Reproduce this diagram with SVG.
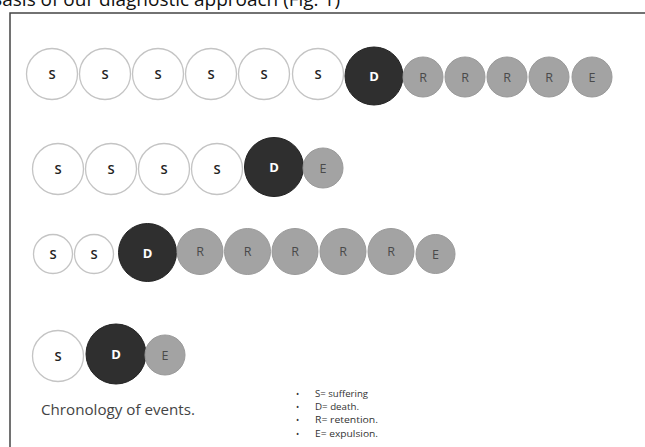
<svg xmlns="http://www.w3.org/2000/svg" width="645" height="447" viewBox="0 0 645 447">
<style>
.s{fill:#fff;stroke:#c4c4c4;stroke-width:1.3}
.d{fill:#2f2f2f;stroke:#222;stroke-width:1}
.r{fill:#a3a3a3;stroke:#9a9a9a;stroke-width:1}
text{font-family:"Open Sans","Liberation Sans",sans-serif;text-anchor:middle;dominant-baseline:central}
.ts{font-size:13px;fill:#222;font-weight:600}
.td{font-size:13px;fill:#fff;font-weight:700}
.tr{font-size:12.5px;fill:#4a4a4a}
.cap{font-size:14px;fill:#444;text-anchor:start;dominant-baseline:alphabetic}
.leg{font-size:8.5px;fill:#333;text-anchor:start;dominant-baseline:alphabetic}
</style>
<rect width="645" height="447" fill="#fff"/>
<text x="-10" y="6" textLength="350" lengthAdjust="spacingAndGlyphs" style="font-size:18px;fill:#111;text-anchor:start;dominant-baseline:alphabetic">Basis of our diagnostic approach (Fig. 1)</text>
<g id="frame"><path d="M10 447V13H645" fill="none" stroke="#444" stroke-width="1.5"/></g>

<g id="row1">
<g id="r1s1"><circle class="s" cx="52" cy="74" r="25.5"/><text class="ts" x="52" y="74">S</text></g>
<g id="r1s2"><circle class="s" cx="105" cy="74" r="25.5"/><text class="ts" x="105" y="74">S</text></g>
<g id="r1s3"><circle class="s" cx="158" cy="74" r="25.5"/><text class="ts" x="158" y="74">S</text></g>
<g id="r1s4"><circle class="s" cx="211" cy="74" r="25.5"/><text class="ts" x="211" y="74">S</text></g>
<g id="r1s5"><circle class="s" cx="264" cy="74" r="25.5"/><text class="ts" x="264" y="74">S</text></g>
<g id="r1s6"><circle class="s" cx="318" cy="74" r="25.5"/><text class="ts" x="318" y="74">S</text></g>
<g id="r1d"><circle class="d" cx="374" cy="76" r="29"/><text class="td" x="374" y="76">D</text></g>
<g id="r1r1"><circle class="r" cx="423" cy="77" r="20"/><text class="tr" x="423" y="77">R</text></g>
<g id="r1r2"><circle class="r" cx="465" cy="77" r="20"/><text class="tr" x="465" y="77">R</text></g>
<g id="r1r3"><circle class="r" cx="507" cy="77" r="20"/><text class="tr" x="507" y="77">R</text></g>
<g id="r1r4"><circle class="r" cx="549" cy="77" r="20"/><text class="tr" x="549" y="77">R</text></g>
<g id="r1e"><circle class="r" cx="592" cy="77" r="20"/><text class="tr" x="592" y="77">E</text></g>
</g>

<g id="row2">
<g id="r2s1"><circle class="s" cx="58" cy="169" r="25.5"/><text class="ts" x="58" y="169">S</text></g>
<g id="r2s2"><circle class="s" cx="111" cy="169" r="25.5"/><text class="ts" x="111" y="169">S</text></g>
<g id="r2s3"><circle class="s" cx="164" cy="169" r="25.5"/><text class="ts" x="164" y="169">S</text></g>
<g id="r2s4"><circle class="s" cx="217" cy="169" r="25.5"/><text class="ts" x="217" y="169">S</text></g>
<g id="r2d"><circle class="d" cx="274" cy="167" r="29.5"/><text class="td" x="274" y="167">D</text></g>
<g id="r2e"><circle class="r" cx="323" cy="168" r="20"/><text class="tr" x="323" y="168">E</text></g>
</g>

<g id="row3">
<g id="r3s1"><circle class="s" cx="53" cy="254" r="19.5"/><text class="ts" x="53" y="254">S</text></g>
<g id="r3s2"><circle class="s" cx="94" cy="254" r="19.5"/><text class="ts" x="94" y="254">S</text></g>
<g id="r3d"><circle class="d" cx="147.5" cy="252.5" r="29"/><text class="td" x="147.5" y="252.5">D</text></g>
<g id="r3r1"><circle class="r" cx="200" cy="251.5" r="23"/><text class="tr" x="200" y="251.5">R</text></g>
<g id="r3r2"><circle class="r" cx="247.5" cy="251.5" r="23"/><text class="tr" x="247.5" y="251.5">R</text></g>
<g id="r3r3"><circle class="r" cx="295" cy="251.5" r="23"/><text class="tr" x="295" y="251.5">R</text></g>
<g id="r3r4"><circle class="r" cx="343" cy="251.5" r="23"/><text class="tr" x="343" y="251.5">R</text></g>
<g id="r3r5"><circle class="r" cx="391" cy="251.5" r="23"/><text class="tr" x="391" y="251.5">R</text></g>
<g id="r3e"><circle class="r" cx="435.5" cy="254" r="19.5"/><text class="tr" x="435.5" y="254">E</text></g>
</g>

<g id="row4">
<g id="r4s1"><circle class="s" cx="58" cy="356" r="25.5"/><text class="ts" x="58" y="356">S</text></g>
<g id="r4d"><circle class="d" cx="116" cy="354" r="30"/><text class="td" x="116" y="354">D</text></g>
<g id="r4e"><circle class="r" cx="165" cy="355" r="20"/><text class="tr" x="165" y="355">E</text></g>
</g>

<g id="caption"><text class="cap" x="41" y="415" textLength="154" lengthAdjust="spacingAndGlyphs">Chronology of events.</text></g>

<g id="legend">
<text class="leg" x="296" y="397">•</text><text class="leg" x="315" y="397" textLength="53" lengthAdjust="spacingAndGlyphs">S= suffering</text>
<text class="leg" x="296" y="410">•</text><text class="leg" x="315" y="410" textLength="44" lengthAdjust="spacingAndGlyphs">D= death.</text>
<text class="leg" x="296" y="423">•</text><text class="leg" x="315" y="423" textLength="63" lengthAdjust="spacingAndGlyphs">R= retention.</text>
<text class="leg" x="296" y="437">•</text><text class="leg" x="315" y="437" textLength="63" lengthAdjust="spacingAndGlyphs">E= expulsion.</text>
</g>
</svg>
